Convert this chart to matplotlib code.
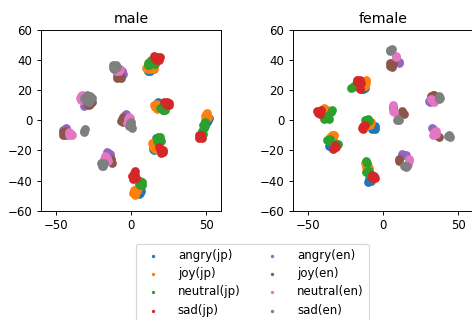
import matplotlib
matplotlib.use("Agg")
import matplotlib.pyplot as plt

labels = ["angry(jp)", "joy(jp)", "neutral(jp)", "sad(jp)",
          "angry(en)", "joy(en)", "neutral(en)", "sad(en)"]

# male panel, points (x, y)
m_angry_jp = [(11.5, 33), (12.5, 32.5), (13, 33.5), (18, 12.5), (17, 11.5), (21, 7),
              (52, 1.5), (51.5, 0.5), (50.5, -1), (14.5, -19), (15.5, -20), (16.5, -12),
              (6, -48), (5.5, -49), (6.5, -47)]
m_joy_jp = [(11, 34), (12, 35), (13, 34), (10, 35), (14, 36), (12, 36.5), (15, 34),
            (16, 9), (17, 8), (16.5, 11), (18, 10), (17.5, 7.5), (15.5, 10),
            (49, 3), (50, 4), (51, 2), (50, 1), (49.5, 0), (50.5, 5),
            (14, -15), (15, -17), (16, -16), (14.5, -18), (16, -19), (15, -14.5),
            (2, -46), (3, -48), (4, -47), (1.5, -48.5), (3, -49.5), (4.5, -45)]
m_neutral_jp = [(11, 38), (12, 39), (13, 40), (11, 37), (14, 38), (12, 37), (15, 41), (16, 37.5),
                (20, 8), (21, 7), (22, 9), (19, 8.5), (22.5, 7),
                (48, -3), (48.5, -5), (47.5, -7), (49, -1), (48, -9), (49.5, -4),
                (17, -12), (18, -11), (19, -13), (17.5, -14), (19.5, -11), (20, -14),
                (6, -40), (7, -41), (6, -43), (5, -42), (7.5, -43)]
m_sad_jp = [(16, 41), (17, 42), (18, 41), (17, 40), (19, 42), (15.5, 42.5), (18.5, 40),
            (23, 11), (24, 12), (25, 10), (24, 10), (22, 12), (25.5, 11.5),
            (46, -11), (45, -10), (47, -12), (46.5, -9.5), (45, -12),
            (19, -19), (20, -20), (21, -21), (20, -22), (21.5, -19.5), (18.5, -18),
            (1, -37), (2, -38), (3, -36), (2, -35), (3, -33.5), (1.5, -39), (3.5, -38)]
m_angry_en = [(-5.5, 31), (-6, 32.5), (-30, 10), (-31, 9.5), (-4, 3.5), (-3, 4),
              (-44, -5.5), (-45, -6.5), (-43, -5),
              (-15, -21.5), (-14, -22.5), (-16, -21), (-14, -24)]
m_joy_en = [(-9, 28), (-8, 29), (-7, 30), (-9.5, 30), (-8, 28.5), (-6.5, 28),
            (-27, 11), (-26, 12), (-28, 10), (-26.5, 13.5), (-29, 11),
            (-6, 1), (-5, 2), (-4, 0), (-6.5, -0.5), (-5, -1),
            (-45, -8), (-44, -9), (-43, -7), (-45.5, -9.5), (-43.5, -10),
            (-13, -26), (-12.5, -28), (-13.5, -27)]
m_neutral_en = [(-8, 33), (-9, 34), (-7.5, 34), (-10, 33),
                (-33, 16), (-34, 15), (-33, 13.5), (-32.5, 17),
                (-2, 1), (-1, 0), (-2.5, -1.5), (-1.5, 2.5), (-0.5, 1.5),
                (-40, -9), (-41, -10), (-39, -9.5), (-41, -8),
                (-17, -24), (-18, -26), (-16, -25), (-17.5, -27), (-15.5, -27)]
m_sad_en = [(-11, 36), (-12, 35), (-10, 37), (-11, 34), (-9.5, 35.5), (-12, 37),
            (-28, 15), (-29, 14), (-27, 16), (-30, 13), (-28, 12.5), (-31, 15), (-29.5, 16.5), (-26, 15),
            (0, -3), (-1, -4), (0.5, -5), (-0.5, -2), (0, -1),
            (-31, -7), (-31.5, -8), (-30.5, -6),
            (-19, -29), (-20, -28), (-18.5, -30), (-19.5, -30.5), (-18, -28)]

# female panel
f_angry_jp = [(-13, 21), (-12, 21.5), (-14, 21), (-39, 3), (-40, 4),
              (-35, -16.5), (-36, -17), (-34.5, -18),
              (-6, -5), (-5, -6), (-7, -6), (-5.5, -4),
              (-9, -40), (-10, -41), (-8, -40.5), (-9.5, -39)]
f_joy_jp = [(-12, 24), (-11, 25), (-12, 22.5), (-11.5, 26.5),
            (-38, 6), (-37, 7), (-39, 8), (-37.5, 4.5),
            (-34, -10), (-33, -11), (-35, -11), (-33.5, -12.5), (-32.5, -9.5),
            (-9, -2), (-8, -1), (-8.5, -3),
            (-10, -30), (-11, -31), (-9.5, -31.5), (-12, -28)]
f_neutral_jp = [(-19, 23), (-18, 24), (-20, 22), (-21, 21.5), (-17.5, 22.5),
                (-38, 2), (-39, 1), (-37, 2.5), (-40, 3.5), (-34, 7), (-34.5, 5.5), (-36, 1),
                (-36, -14), (-37, -13), (-35.5, -12.5), (-30, -16), (-31, -15.5),
                (-11, 0), (-10, 1), (-12, 0.5), (-9.5, -0.5),
                (-11, -27), (-10.5, -28.5), (-10, -35), (-11, -34.5), (-9.5, -33.5)]
f_sad_jp = [(-16, 26), (-17, 27), (-15, 26.5), (-16, 24.5), (-14.5, 25), (-17.5, 25.5), (-15, 21),
            (-42, 6), (-43, 5), (-41, 7), (-42, 4), (-44, 6),
            (-32, -18), (-33, -19), (-31, -17.5), (-32, -16.5),
            (-13, -4), (-14, -5), (-12, -3), (-13, -5.5),
            (-6, -37), (-7, -38), (-5.5, -38.5), (-7, -36)]
f_angry_en = [(11, 38), (10.5, 39), (7, 8), (6.5, 9), (31, 12), (30.5, 13),
              (33, -6), (32.5, -5), (14, -23), (13, -22.5), (15, -23)]
f_joy_en = [(6, 37), (5, 36), (7, 38), (6, 35.5), (4.5, 38),
            (13, 5), (14, 4), (12.5, 6), (33, 17), (34, 16.5), (32, 16),
            (36, -10), (37, -11), (11, -26), (10.5, -27)]
f_neutral_en = [(9, 43), (8.5, 42), (7, 10), (6.5, 6.5), (7.5, 5.5),
                (33, 13), (34, 12), (32, 14),
                (34, -8), (35, -9), (33, -9.5), (35, -7),
                (17, -27), (16.5, -29), (17, -25.5)]
f_sad_en = [(5, 47), (4.5, 46), (6, 47.5), (10, 1), (9.5, 0), (11, 0.5),
            (38, 15), (37, 16), (37.5, 14), (44, -10), (43, -10.5), (44.5, -11),
            (15, -31), (14, -30.5), (16, -30)]

male = [m_angry_jp, m_joy_jp, m_neutral_jp, m_sad_jp, m_angry_en, m_joy_en, m_neutral_en, m_sad_en]
female = [f_angry_jp, f_joy_jp, f_neutral_jp, f_sad_jp, f_angry_en, f_joy_en, f_neutral_en, f_sad_en]

# the reference looks like a 100dpi figure scaled down, so render at 85dpi
fig = plt.figure(figsize=(472 / 85, 320 / 85), dpi=85)
ax1 = fig.add_axes([0.0862, 0.3416, 0.3826, 0.5647])
ax2 = fig.add_axes([0.620, 0.3416, 0.3826, 0.5647])

for ax, title, groups in [(ax1, "male", male), (ax2, "female", female)]:
    for i, (lab, pts) in enumerate(zip(labels, groups)):
        xs = [p[0] for p in pts]
        ys = [p[1] for p in pts]
        ax.scatter(xs, ys, s=55, color=f"C{i}", label=lab, linewidths=0)
    ax.set_xlim(-60, 60)
    ax.set_ylim(-60, 60)
    ax.set_xticks([-50, 0, 50])
    ax.set_yticks([-60, -40, -20, 0, 20, 40, 60])
    ax.set_title(title)

handles, labs = ax1.get_legend_handles_labels()
fig.legend(handles, labs, loc="upper center", bbox_to_anchor=(0.535, 0.256), ncol=2,
           markerscale=0.38, handletextpad=1.1, columnspacing=1.7, labelspacing=0.45)

fig.savefig("out.png", dpi=85)
